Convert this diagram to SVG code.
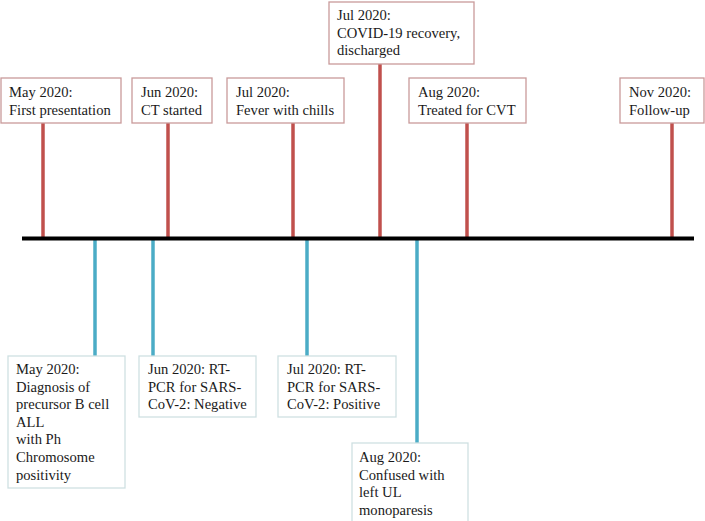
<svg xmlns="http://www.w3.org/2000/svg" width="705" height="521" viewBox="0 0 705 521">
<style>
.t{font-family:"Liberation Serif","Times New Roman",serif;font-size:14.6px;fill:#1a1a1a}
.rb{fill:#fff;stroke:#c99a9a;stroke-width:1.3}
.bb{fill:#fff;stroke:#cfe0e2;stroke-width:1.3}
.rl{stroke:#c0504d;stroke-width:3.5}
.bl{stroke:#4bacc6;stroke-width:3.5}
.ax{stroke:#000;stroke-width:4}
</style>
<rect width="705" height="521" fill="#fff"/>
<g id="connectors">
<line class="rl" x1="43" y1="123" x2="43" y2="238"/>
<line class="rl" x1="168" y1="123" x2="168" y2="238"/>
<line class="rl" x1="293" y1="123" x2="293" y2="238"/>
<line class="rl" x1="380" y1="64" x2="380" y2="238"/>
<line class="rl" x1="467" y1="123" x2="467" y2="238"/>
<line class="rl" x1="672" y1="123" x2="672" y2="238"/>
<line class="bl" x1="95" y1="238" x2="95" y2="356"/>
<line class="bl" x1="153" y1="238" x2="153" y2="356"/>
<line class="bl" x1="307" y1="238" x2="307" y2="356"/>
<line class="bl" x1="417" y1="238" x2="417" y2="443"/>
<line class="ax" x1="22" y1="238.5" x2="694" y2="238.5"/>
</g>
<g id="n1"><rect class="rb" x="1" y="78" width="120" height="45"/><text class="t" x="9" y="97">May 2020:</text><text class="t" x="9" y="114.5">First presentation</text></g>
<g id="n2"><rect class="rb" x="132" y="78" width="80" height="45"/><text class="t" x="141" y="97">Jun 2020:</text><text class="t" x="141" y="114.5">CT started</text></g>
<g id="n3"><rect class="rb" x="227" y="78" width="117" height="45"/><text class="t" x="236" y="97">Jul 2020:</text><text class="t" x="236" y="114.5">Fever with chills</text></g>
<g id="n4"><rect class="rb" x="329" y="2" width="145" height="62"/><text class="t" x="337" y="20">Jul 2020:</text><text class="t" x="337" y="37.5">COVID-19 recovery,</text><text class="t" x="337" y="55">discharged</text></g>
<g id="n5"><rect class="rb" x="409" y="78" width="117" height="45"/><text class="t" x="418" y="97">Aug 2020:</text><text class="t" x="418" y="114.5">Treated for CVT</text></g>
<g id="n6"><rect class="rb" x="620" y="78" width="84" height="45"/><text class="t" x="629" y="97">Nov 2020:</text><text class="t" x="629" y="114.5">Follow-up</text></g>
<g id="n7"><rect class="bb" x="8" y="356" width="117" height="132"/>
<text class="t" x="16" y="374">May 2020:</text><text class="t" x="16" y="391.6">Diagnosis of</text><text class="t" x="16" y="409.2">precursor B cell</text><text class="t" x="16" y="426.8">ALL</text><text class="t" x="16" y="444.4">with Ph</text><text class="t" x="16" y="462">Chromosome</text><text class="t" x="16" y="479.6">positivity</text></g>
<g id="n8"><rect class="bb" x="139" y="356" width="117" height="61"/><text class="t" x="148" y="374">Jun 2020: RT-</text><text class="t" x="148" y="391.6">PCR for SARS-</text><text class="t" x="148" y="409.2">CoV-2: Negative</text></g>
<g id="n9"><rect class="bb" x="278" y="356" width="118" height="61"/><text class="t" x="287" y="374">Jul 2020: RT-</text><text class="t" x="287" y="391.6">PCR for SARS-</text><text class="t" x="287" y="409.2">CoV-2: Positive</text></g>
<g id="n10"><rect class="bb" x="352" y="443" width="116" height="85"/><text class="t" x="359" y="462">Aug 2020:</text><text class="t" x="359" y="479.6">Confused with</text><text class="t" x="359" y="497.2">left UL</text><text class="t" x="359" y="514.8">monoparesis</text></g>
</svg>
